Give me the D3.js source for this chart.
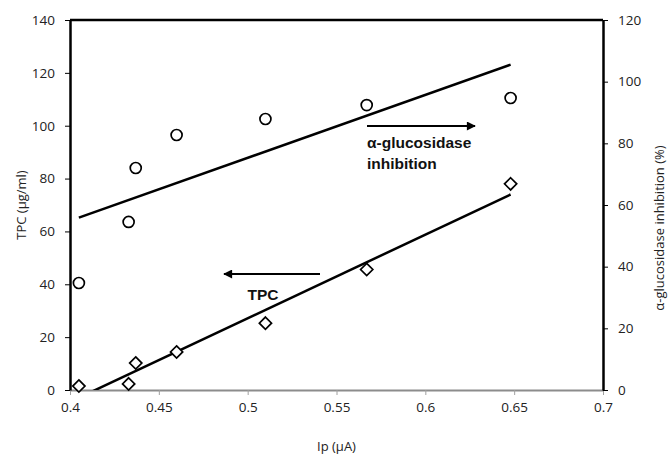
<!DOCTYPE html>
<html>
<head>
<meta charset="utf-8">
<script src="https://cdn.jsdelivr.net/npm/d3@7"></script>
<style>
  body { margin: 0; background: #fff; }
  svg { display: block; }
  .tick text { font-family: "Open Sans", sans-serif; font-size: 13.5px; fill: #222; }
</style>
</head>
<body>
<div id="chart"></div>
<script>
// podaci
const ipVrijednosti = [0.405, 0.433, 0.437, 0.46, 0.51, 0.567, 0.648];
const tpcVrijednosti = [1.5, 2.3, 10.2, 14.4, 25.3, 45.6, 78];
const inhibicija = [34.7, 54.5, 72.0, 82.7, 87.9, 92.4, 94.7];
const xTicks = [0.4, 0.45, 0.5, 0.55, 0.6, 0.65, 0.7];
const yLijeviTicks = [0, 20, 40, 60, 80, 100, 120, 140];
const yDesniTicks = [0, 20, 40, 60, 80, 100, 120];

const dim = {
  sirina: 670,
  visina: 456,
  margine: { top: 20, right: 67, bottom: 66, left: 70 }
};
dim.grSirina = dim.sirina - dim.margine.left - dim.margine.right;
dim.grVisina = dim.visina - dim.margine.top - dim.margine.bottom;

const svg = d3.select("#chart").append("svg")
  .attr("width", dim.sirina)
  .attr("height", dim.visina);

const g = svg.append("g")
  .attr("transform", `translate(${dim.margine.left},${dim.margine.top})`);

const xSkala = d3.scaleLinear().domain([0.4, 0.7]).range([0, dim.grSirina]);
const yLijevo = d3.scaleLinear().domain([0, 140]).range([dim.grVisina, 0]);
const yDesno = d3.scaleLinear().domain([0, 120]).range([dim.grVisina, 0]);

// clip za trend linije
const defs = svg.append("defs");
defs.append("clipPath").attr("id", "clip")
  .append("rect").attr("width", dim.grSirina).attr("height", dim.grVisina);

// x os (siva)
const xOs = g.append("g")
  .attr("transform", `translate(0,${dim.grVisina})`)
  .call(d3.axisBottom(xSkala).tickValues(xTicks).tickSize(5).tickSizeOuter(0)
    .tickFormat(d => String(+d.toFixed(2))));
xOs.select(".domain").attr("stroke", "#8c8c8c").attr("stroke-width", 2);
xOs.selectAll(".tick line").attr("stroke", "#a0a0a0");
xOs.selectAll(".tick text").attr("dy", "1.05em");

// lijeva os
const yOsL = g.append("g")
  .call(d3.axisLeft(yLijevo).tickValues(yLijeviTicks).tickSize(5).tickSizeOuter(0));
yOsL.select(".domain").attr("stroke", "#000").attr("stroke-width", 2.5);
yOsL.selectAll(".tick line").attr("stroke", "#000").attr("stroke-width", 1);
yOsL.selectAll(".tick text").attr("x", -15);

// desna os
const yOsD = g.append("g")
  .attr("transform", `translate(${dim.grSirina},0)`)
  .call(d3.axisRight(yDesno).tickValues(yDesniTicks).tickSize(5).tickSizeOuter(0));
yOsD.select(".domain").attr("stroke", "#000").attr("stroke-width", 2.5);
yOsD.selectAll(".tick line").attr("stroke", "#000").attr("stroke-width", 1);
yOsD.selectAll(".tick text").attr("x", 15);

// gornji rub
g.append("line")
  .attr("x1", 0).attr("x2", dim.grSirina)
  .attr("y1", 0).attr("y2", 0)
  .attr("stroke", "#000").attr("stroke-width", 2.5);

// naslovi osi
const naslov = (transform, t) => svg.append("text")
  .attr("transform", transform)
  .attr("text-anchor", "middle").attr("dy", "0.35em")
  .style("font-family", "Open Sans, sans-serif").style("font-size", "13px")
  .attr("fill", "#222")
  .text(t);

naslov(`translate(21,205)rotate(-90)`, "TPC (µg/ml)");
naslov(`translate(659,228)rotate(-90)`, "α-glucosidase inhibition (%)");
naslov(`translate(${dim.margine.left + xSkala(0.55)},446)`, "Ip (µA)");

// linearna regresija (kao Excel trend linija)
function regresija(xs, ys) {
  const mx = d3.mean(xs), my = d3.mean(ys);
  let sxy = 0, sxx = 0;
  for (let i = 0; i < xs.length; i++) {
    sxy += (xs[i] - mx) * (ys[i] - my);
    sxx += (xs[i] - mx) * (xs[i] - mx);
  }
  const k = sxy / sxx;
  return x => my + k * (x - mx);
}

const xMin = d3.min(ipVrijednosti), xMax = d3.max(ipVrijednosti);
const trendInh = regresija(ipVrijednosti, inhibicija);
const trendTpc = regresija(ipVrijednosti, tpcVrijednosti);

const trendovi = g.append("g").attr("clip-path", "url(#clip)");
trendovi.append("line")
  .attr("x1", xSkala(xMin)).attr("y1", yDesno(trendInh(xMin)))
  .attr("x2", xSkala(xMax)).attr("y2", yDesno(trendInh(xMax)))
  .attr("stroke", "#000").attr("stroke-width", 2.5);
trendovi.append("line")
  .attr("x1", xSkala(xMin)).attr("y1", yLijevo(trendTpc(xMin)))
  .attr("x2", xSkala(xMax)).attr("y2", yLijevo(trendTpc(xMax)))
  .attr("stroke", "#000").attr("stroke-width", 2.5);

// kruzici - inhibicija
g.selectAll("circle.inh")
  .data(ipVrijednosti)
  .join("circle")
    .attr("class", "inh")
    .attr("cx", d => xSkala(d))
    .attr("cy", (d, i) => yDesno(inhibicija[i]))
    .attr("r", 5.5)
    .attr("fill", "#fff")
    .attr("stroke", "#000")
    .attr("stroke-width", 1.7);

// rombovi - TPC
const romb = d3.symbol().type(d3.symbolDiamond2).size(95);
g.selectAll("path.tpc")
  .data(ipVrijednosti)
  .join("path")
    .attr("class", "tpc")
    .attr("d", romb)
    .attr("transform", (d, i) => `translate(${xSkala(d)},${yLijevo(tpcVrijednosti[i])})`)
    .attr("fill", "#fff")
    .attr("stroke", "#000")
    .attr("stroke-width", 1.7);

// strelice
defs.append("marker")
  .attr("id", "strelica")
  .attr("viewBox", "0 0 10 10")
  .attr("refX", 9).attr("refY", 5)
  .attr("markerWidth", 15).attr("markerHeight", 9)
  .attr("markerUnits", "userSpaceOnUse")
  .attr("orient", "auto")
  .append("path").attr("d", "M0,0L10,5L0,10Z").attr("fill", "#000");

svg.append("line")
  .attr("x1", 367).attr("y1", 126).attr("x2", 475).attr("y2", 126)
  .attr("stroke", "#000").attr("stroke-width", 2)
  .attr("marker-end", "url(#strelica)");

svg.append("line")
  .attr("x1", 320).attr("y1", 274).attr("x2", 224).attr("y2", 274)
  .attr("stroke", "#000").attr("stroke-width", 2)
  .attr("marker-end", "url(#strelica)");

const boldTekst = (x, y, t, anchor) => svg.append("text")
  .attr("x", x).attr("y", y)
  .attr("text-anchor", anchor || "start").attr("dy", "0.35em")
  .style("font-family", "Liberation Sans, Arial, sans-serif")
  .style("font-size", "15.5px").style("font-weight", "bold")
  .attr("fill", "#111")
  .text(t);

boldTekst(367, 143, "α-glucosidase");
boldTekst(367, 164, "inhibition");
boldTekst(263, 295, "TPC", "middle");
</script>
</body>
</html>
